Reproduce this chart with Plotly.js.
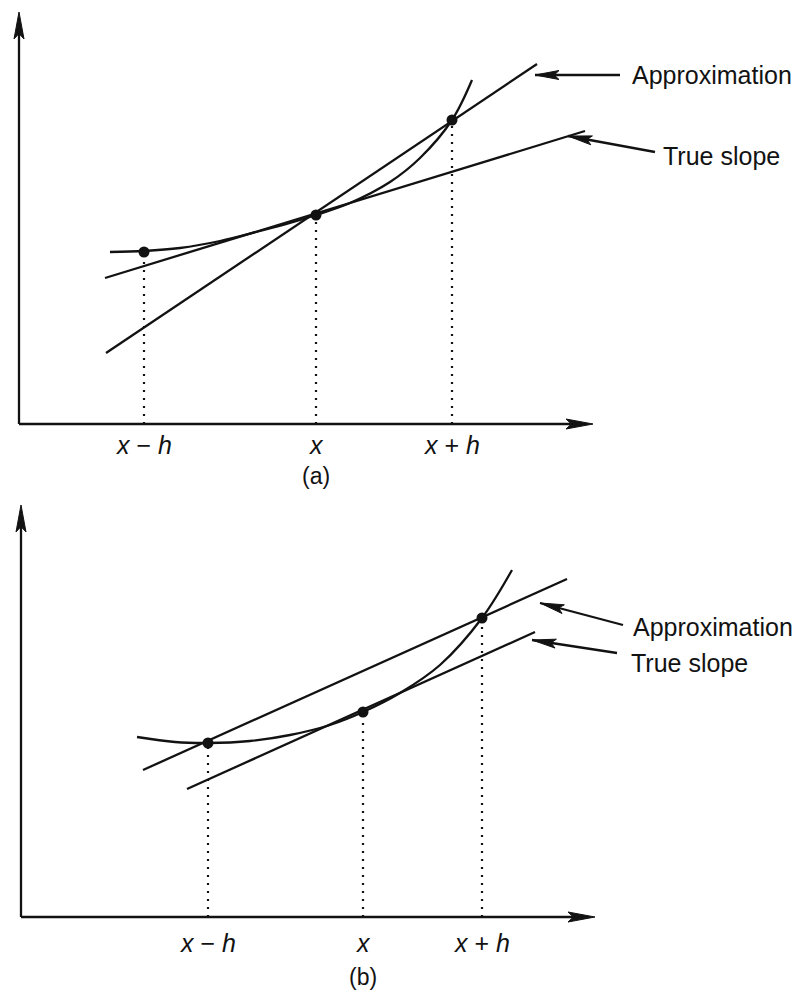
<!DOCTYPE html>
<html>
<head>
<meta charset="utf-8">
<script src="https://cdn.plot.ly/plotly-3.0.1.min.js"></script>
<style>html,body{margin:0;padding:0;background:#fff}#chart{width:800px;height:992px}</style>
</head>
<body>
<div id="chart"></div>
<script>
// ---------- Panel (a): forward difference ----------
const aCurveX = [0.91, 1.25, 1.61, 2.01, 2.41, 2.71, 2.97, 3.31, 3.71, 4.01, 4.33, 4.53];
const aCurveY = [1.72, 1.73, 1.76, 1.83, 1.93, 2.01, 2.09, 2.21, 2.42, 2.66, 3.04, 3.44];
const aPointX = [1.25, 2.97, 4.33];
const aPointY = [1.72, 2.09, 3.04];
const aTrueX = [0.86, 5.66];
const aTrueY = [1.46, 2.93];
const aApproxX = [0.87, 5.18];
const aApproxY = [0.71, 3.60];
// pointer arrows [tip, tail] and label anchor
const aApproxPtr = [[5.16, 3.49], [6.01, 3.49]];
const aTruePtr = [[5.49, 2.88], [6.36, 2.72]];
const aApproxLabel = [6.11, 3.49];
const aTrueLabel = [6.42, 2.68];

// ---------- Panel (b): central difference ----------
const bCurveX = [1.16, 1.54, 1.87, 2.29, 2.69, 3.09, 3.42, 3.79, 4.19, 4.61, 4.91];
const bCurveY = [1.80, 1.75, 1.74, 1.76, 1.82, 1.92, 2.05, 2.24, 2.52, 2.99, 3.47];
const bPointX = [1.87, 3.42, 4.61];
const bPointY = [1.74, 2.05, 2.99];
const bTrueX = [1.66, 5.14];
const bTrueY = [1.28, 2.85];
const bApproxX = [1.22, 5.46];
const bApproxY = [1.47, 3.38];
const bApproxPtr = [[5.19, 3.14], [6.02, 2.92]];
const bTruePtr = [[5.11, 2.77], [5.96, 2.64]];
const bApproxLabel = [6.10, 2.90];
const bTrueLabel = [6.08, 2.54];

// tick labels (shared)
const tickLabels = ['<i>x</i> − <i>h</i>', '<i>x</i>', '<i>x</i> + <i>h</i>'];
const panelLabels = ['(a)', '(b)'];
const pointerTexts = ['Approximation', 'True slope'];

const xMax = 5.74, yMax = 4.12;
const ink = '#121212';
const LW = 2.3;
const FONT = 'Liberation Sans, Arial, Helvetica, sans-serif';

function drops(px, py, xa, ya) {
  const x = [], y = [];
  px.forEach((v, i) => { x.push(v, v, null); y.push(0, py[i] - 0.05, null); });
  return {x, y, xaxis: xa, yaxis: ya, mode: 'lines', cliponaxis: false,
          line: {color: ink, width: 2.2, dash: '2px,6px'}, hoverinfo: 'skip'};
}
function solid(x, y, xa, ya, spline) {
  return {x, y, xaxis: xa, yaxis: ya, mode: 'lines', cliponaxis: false,
          line: {color: ink, width: LW, shape: spline ? 'spline' : 'linear', smoothing: 1},
          hoverinfo: 'skip'};
}
function dots(x, y, xa, ya) {
  return {x, y, xaxis: xa, yaxis: ya, mode: 'markers', cliponaxis: false, opacity: 1,
          marker: {color: ink, size: 11, opacity: 1, line: {width: 0}}, hoverinfo: 'skip'};
}
function head(xr, yr, tip, tail, len, hw) {
  const dx = tail[0] - tip[0], dy = tail[1] - tip[1];
  const d = Math.hypot(dx, dy), ux = dx / d, uy = dy / d;
  const bx = tip[0] + ux * len, by = tip[1] + uy * len;
  const nx = -uy * hw, ny = ux * hw;
  const mx = tip[0] + ux * len * 0.8, my = tip[1] + uy * len * 0.8;
  return {type: 'path', xref: xr, yref: yr, layer: 'above',
          path: `M${tip[0]},${tip[1]} L${bx + nx},${by + ny} L${mx},${my} L${bx - nx},${by - ny} Z`,
          fillcolor: ink, line: {color: ink, width: 1}};
}
function seg(xr, yr, p, q) {
  return {type: 'line', xref: xr, yref: yr, x0: p[0], y0: p[1], x1: q[0], y1: q[1],
          line: {color: ink, width: LW}};
}
function pointer(xr, yr, ptr) {
  const [tip, tail] = ptr;
  return [seg(xr, yr, tail, tip), head(xr, yr, tip, tail, 0.24, 0.045)];
}
function axesShapes(xr, yr) {
  return [
    seg(xr, yr, [0, 0], [xMax - 0.1, 0]),
    seg(xr, yr, [0, 0], [0, yMax - 0.1]),
    head(xr, yr, [xMax, 0], [0, 0], 0.27, 0.05),
    head(xr, yr, [0, yMax], [0, 0], 0.27, 0.05)
  ];
}

const data = [
  solid(aCurveX, aCurveY, 'x', 'y', true),
  solid(aTrueX, aTrueY, 'x', 'y'),
  solid(aApproxX, aApproxY, 'x', 'y'),
  drops(aPointX, aPointY, 'x', 'y'),
  dots(aPointX, aPointY, 'x', 'y'),
  solid(bCurveX, bCurveY, 'x2', 'y2', true),
  solid(bTrueX, bTrueY, 'x2', 'y2'),
  solid(bApproxX, bApproxY, 'x2', 'y2'),
  drops(bPointX, bPointY, 'x2', 'y2'),
  dots(bPointX, bPointY, 'x2', 'y2')
];

const shapes = [
  ...axesShapes('x', 'y'),
  ...axesShapes('x2', 'y2'),
  ...pointer('x', 'y', aApproxPtr),
  ...pointer('x', 'y', aTruePtr),
  ...pointer('x2', 'y2', bApproxPtr),
  ...pointer('x2', 'y2', bTruePtr)
];

const tf = {family: FONT, size: 25, color: ink};
const lf = {family: FONT, size: 25, color: ink};
const annotations = [];
aPointX.forEach((v, i) => annotations.push({x: v, y: -0.21, xref: 'x', yref: 'y', text: tickLabels[i],
  showarrow: false, xanchor: 'center', yanchor: 'middle', font: lf}));
bPointX.forEach((v, i) => annotations.push({x: v, y: -0.26, xref: 'x2', yref: 'y2', text: tickLabels[i],
  showarrow: false, xanchor: 'center', yanchor: 'middle', font: lf}));
annotations.push({x: aPointX[1], y: -0.52, xref: 'x', yref: 'y', text: panelLabels[0], showarrow: false,
  xanchor: 'center', yanchor: 'middle', font: {family: FONT, size: 23, color: ink}});
annotations.push({x: bPointX[1], y: -0.60, xref: 'x2', yref: 'y2', text: panelLabels[1], showarrow: false,
  xanchor: 'center', yanchor: 'middle', font: {family: FONT, size: 23, color: ink}});
[[aApproxLabel, 'x', 'y', 0], [aTrueLabel, 'x', 'y', 1], [bApproxLabel, 'x2', 'y2', 0], [bTrueLabel, 'x2', 'y2', 1]]
  .forEach(([p, xr, yr, k]) => annotations.push({x: p[0], y: p[1], xref: xr, yref: yr, text: pointerTexts[k],
    showarrow: false, xanchor: 'left', yanchor: 'middle', font: tf}));

function ax(domain, range, anchor) {
  return {domain, range, anchor, visible: false, showgrid: false, zeroline: false, fixedrange: true};
}

// each panel: 1 data unit = 100 px; origin of panel (a) at (19,424), panel (b) at (21,917)
const layout = {
  width: 800, height: 992,
  margin: {l: 0, r: 0, t: 0, b: 0},
  paper_bgcolor: '#ffffff', plot_bgcolor: 'rgba(0,0,0,0)',
  showlegend: false,
  xaxis: ax([0, 1], [-0.19, 7.81], 'y'),
  yaxis: ax([0.5, 1], [-0.72, 4.24], 'x'),
  xaxis2: ax([0, 1], [-0.21, 7.79], 'y2'),
  yaxis2: ax([0, 0.5], [-0.75, 4.21], 'x2'),
  shapes, annotations
};

Plotly.newPlot('chart', data, layout, {displayModeBar: false, staticPlot: true});
</script>
</body>
</html>
